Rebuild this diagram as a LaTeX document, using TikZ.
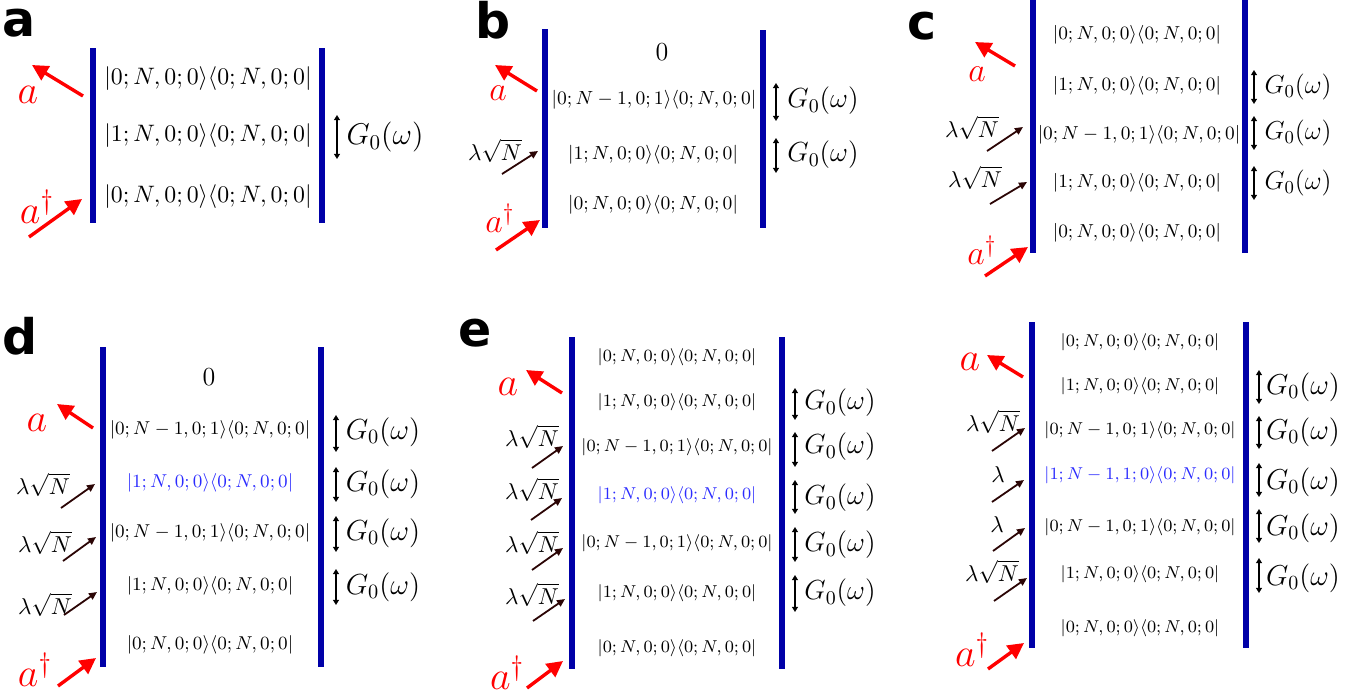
\RequirePackage{fix-cm}
\documentclass[tikz,border=0pt]{standalone}
\usepackage{fontspec}
\newfontfamily\panelfont{DejaVu Sans}
\usepackage{tikz}
\usetikzlibrary{arrows.meta,calc}
\definecolor{barblue}{HTML}{0000A8}
\definecolor{lamdark}{HTML}{2B0505}
\definecolor{stblue}{HTML}{2B2BFF}
\newcommand{\kbr}[2]{$|#1\rangle\langle#2|$}
\newcommand{\gzero}{$G_0(\omega)$}

\begin{document}
\begin{tikzpicture}[
  x=0.5pt, y=-0.5pt,
  bar/.style={draw=barblue, line width=3.3pt},
  panel/.style={inner sep=0pt, font=\panelfont\bfseries\fontsize{24.5}{24.5}\selectfont},
  st/.style={inner sep=0pt, font=\fontsize{#1}{#1}\selectfont},
  gl/.style={inner sep=0pt, font=\fontsize{#1}{#1}\selectfont},
  opl/.style={inner sep=0pt, text=red, font=\fontsize{#1}{#1}\selectfont},
  laml/.style={inner sep=0pt, font=\fontsize{11.5}{11.5}\selectfont},
  opar/.style={-{Triangle[length=8pt,width=8pt]}, red, line width=1.7pt},
  lamar/.style={-{Triangle[length=4pt,width=3.6pt]}, lamdark, line width=0.9pt},
  gar/.style={{Triangle[length=2.6pt,width=3pt]}-{Triangle[length=2.6pt,width=3pt]}, line width=0.7pt}
]
  \useasboundingbox (0,0) rectangle (1372,696);

  % a
  \node[panel] (pa) at (19.5,23) {a};
  \draw[bar] (93,48) -- (93,223);
  \draw[bar] (322,48) -- (322,223);
  \node[st=11.9] (a-s1) at (208,79) {\kbr{0;N,0;0}{0;N,0;0}};
  \node[st=11.9] (a-s2) at (208,136) {\kbr{1;N,0;0}{0;N,0;0}};
  \node[st=11.9] (a-s3) at (208,197) {\kbr{0;N,0;0}{0;N,0;0}};
  \node[opl=20] (a-a) at (28,95) {$a$};
  \node[opl=20] (a-ad) at (37,207) {$a^\dagger$};
  \coordinate (a-dn0) at (83,96);  \coordinate (a-dn1) at (32,65);
  \coordinate (a-up0) at (29,237); \coordinate (a-up1) at (82,199);
  \draw[opar] (a-dn0) -- (a-dn1);
  \draw[opar] (a-up0) -- (a-up1);
  \node[gl=15] (a-g1) at (385,137) {\gzero};
  \coordinate (a-g1t) at (337,115); \coordinate (a-g1b) at (337,159);
  \draw[gar] (a-g1t) -- (a-g1b);

  % b
  \node[panel] (pb) at (493,20) {b};
  \draw[bar] (545,29) -- (545,228);
  \draw[bar] (763,30) -- (763,228);
  \node[st=13] (b-z) at (662,52) {$0$};
  \node[st=9.5] (b-s1) at (654,100) {\kbr{0;N-1,0;1}{0;N,0;0}};
  \node[st=9.5] (b-s2) at (653,155) {\kbr{1;N,0;0}{0;N,0;0}};
  \node[st=9.5] (b-s3) at (653,205) {\kbr{0;N,0;0}{0;N,0;0}};
  \node[opl=17] (b-a) at (498,93) {$a$};
  \node[opl=17] (b-ad) at (500,218) {$a^\dagger$};
  \node[laml] (b-l1) at (495,151) {$\lambda\sqrt{N}$};
  \coordinate (b-dn0) at (537,91);  \coordinate (b-dn1) at (495,65);
  \coordinate (b-up0) at (496,250); \coordinate (b-up1) at (540,220);
  \coordinate (b-l10) at (502,174); \coordinate (b-l11) at (538,151);
  \draw[opar] (b-dn0) -- (b-dn1);
  \draw[opar] (b-up0) -- (b-up1);
  \draw[lamar] (b-l10) -- (b-l11);
  \node[gl=13.8] (b-g1) at (823,101) {\gzero};
  \node[gl=13.8] (b-g2) at (823,155) {\gzero};
  \coordinate (b-g1t) at (776,83);  \coordinate (b-g1b) at (776,121);
  \coordinate (b-g2t) at (776,138); \coordinate (b-g2b) at (776,173);
  \draw[gar] (b-g1t) -- (b-g1b);
  \draw[gar] (b-g2t) -- (b-g2b);

  % c
  \node[panel] (pc) at (922,26) {c};
  \draw[bar] (1033,0) -- (1033,253);
  \draw[bar] (1245,0) -- (1245,253);
  \node[st=9.4] (c-s1) at (1137,35) {\kbr{0;N,0;0}{0;N,0;0}};
  \node[st=9.4] (c-s2) at (1137,86) {\kbr{1;N,0;0}{0;N,0;0}};
  \node[st=9.4] (c-s3) at (1139,135) {\kbr{0;N-1,0;1}{0;N,0;0}};
  \node[st=9.4] (c-s4) at (1137,183) {\kbr{1;N,0;0}{0;N,0;0}};
  \node[st=9.4] (c-s5) at (1137,233) {\kbr{0;N,0;0}{0;N,0;0}};
  \node[opl=17] (c-a) at (977,74) {$a$};
  \node[opl=17] (c-ad) at (982,250) {$a^\dagger$};
  \node[laml] (c-l1) at (972,128) {$\lambda\sqrt{N}$};
  \node[laml] (c-l2) at (975,178) {$\lambda\sqrt{N}$};
  \coordinate (c-dn0) at (1015,66);  \coordinate (c-dn1) at (975,42);
  \coordinate (c-up0) at (985,276);  \coordinate (c-up1) at (1028,247);
  \coordinate (c-l10) at (987,151);  \coordinate (c-l11) at (1023,127);
  \coordinate (c-l20) at (990,204);  \coordinate (c-l21) at (1027,182);
  \draw[opar] (c-dn0) -- (c-dn1);
  \draw[opar] (c-up0) -- (c-up1);
  \draw[lamar] (c-l10) -- (c-l11);
  \draw[lamar] (c-l20) -- (c-l21);
  \node[gl=13] (c-g1) at (1298,87) {\gzero};
  \node[gl=13] (c-g2) at (1298,133) {\gzero};
  \node[gl=13] (c-g3) at (1298,183) {\gzero};
  \coordinate (c-g1t) at (1254,70);  \coordinate (c-g1b) at (1254,104);
  \coordinate (c-g2t) at (1254,116); \coordinate (c-g2b) at (1254,150);
  \coordinate (c-g3t) at (1254,166); \coordinate (c-g3b) at (1254,200);
  \draw[gar] (c-g1t) -- (c-g1b);
  \draw[gar] (c-g2t) -- (c-g2b);
  \draw[gar] (c-g3t) -- (c-g3b);

  % d
  \node[panel] (pd) at (20,336) {d};
  \draw[bar] (103,347) -- (103,667);
  \draw[bar] (321,347) -- (321,667);
  \node[st=13] (d-z) at (209,377) {$0$};
  \node[st=9.3] (d-s1) at (210,430) {\kbr{0;N-1,0;1}{0;N,0;0}};
  \node[st=9.3, text=stblue] (d-s2) at (210,483) {\kbr{1;N,0;0}{0;N,0;0}};
  \node[st=9.3] (d-s3) at (210,533) {\kbr{0;N-1,0;1}{0;N,0;0}};
  \node[st=9.3] (d-s4) at (210,586) {\kbr{1;N,0;0}{0;N,0;0}};
  \node[st=9.3] (d-s5) at (210,645) {\kbr{0;N,0;0}{0;N,0;0}};
  \node[opl=20] (d-a) at (37,423) {$a$};
  \node[opl=20] (d-ad) at (35,670) {$a^\dagger$};
  \node[laml] (d-l1) at (43,485) {$\lambda\sqrt{N}$};
  \node[laml] (d-l2) at (45,543) {$\lambda\sqrt{N}$};
  \node[laml] (d-l3) at (45,605) {$\lambda\sqrt{N}$};
  \coordinate (d-dn0) at (93,428);  \coordinate (d-dn1) at (57,404);
  \coordinate (d-up0) at (58,686);  \coordinate (d-up1) at (96,658);
  \coordinate (d-l10) at (61,508);  \coordinate (d-l11) at (95,484);
  \coordinate (d-l20) at (63,561);  \coordinate (d-l21) at (96,537);
  \coordinate (d-l30) at (64,615);  \coordinate (d-l31) at (97,592);
  \draw[opar] (d-dn0) -- (d-dn1);
  \draw[opar] (d-up0) -- (d-up1);
  \draw[lamar] (d-l10) -- (d-l11);
  \draw[lamar] (d-l20) -- (d-l21);
  \draw[lamar] (d-l30) -- (d-l31);
  \node[gl=14.5] (d-g1) at (383,432) {\gzero};
  \node[gl=14.5] (d-g2) at (383,484) {\gzero};
  \node[gl=14.5] (d-g3) at (383,533) {\gzero};
  \node[gl=14.5] (d-g4) at (383,587) {\gzero};
  \coordinate (d-g1t) at (336,415); \coordinate (d-g1b) at (336,452);
  \coordinate (d-g2t) at (336,467); \coordinate (d-g2b) at (336,502);
  \coordinate (d-g3t) at (336,516); \coordinate (d-g3b) at (336,552);
  \coordinate (d-g4t) at (336,569); \coordinate (d-g4b) at (336,605);
  \draw[gar] (d-g1t) -- (d-g1b);
  \draw[gar] (d-g2t) -- (d-g2b);
  \draw[gar] (d-g3t) -- (d-g3b);
  \draw[gar] (d-g4t) -- (d-g4b);

  % e
  \node[panel] (pe) at (475,333) {e};
  \draw[bar] (572,337) -- (572,669);
  \draw[bar] (782,337) -- (782,669);
  \node[st=8.6] (e-s1) at (677,357) {\kbr{0;N,0;0}{0;N,0;0}};
  \node[st=8.6] (e-s2) at (677,402) {\kbr{1;N,0;0}{0;N,0;0}};
  \node[st=8.6] (e-s3) at (677,447) {\kbr{0;N-1,0;1}{0;N,0;0}};
  \node[st=8.6, text=stblue] (e-s4) at (677,495) {\kbr{1;N,0;0}{0;N,0;0}};
  \node[st=8.6] (e-s5) at (677,543) {\kbr{0;N-1,0;1}{0;N,0;0}};
  \node[st=8.6] (e-s6) at (677,593) {\kbr{1;N,0;0}{0;N,0;0}};
  \node[st=8.6] (e-s7) at (677,648) {\kbr{0;N,0;0}{0;N,0;0}};
  \node[opl=20] (e-a) at (508,387) {$a$};
  \node[opl=20] (e-ad) at (507,673) {$a^\dagger$};
  \node[laml] (e-l1) at (532,437) {$\lambda\sqrt{N}$};
  \node[laml] (e-l2) at (532,490) {$\lambda\sqrt{N}$};
  \node[laml] (e-l3) at (532,543) {$\lambda\sqrt{N}$};
  \node[laml] (e-l4) at (532,595) {$\lambda\sqrt{N}$};
  \coordinate (e-dn0) at (562,393); \coordinate (e-dn1) at (526,370);
  \coordinate (e-up0) at (527,688); \coordinate (e-up1) at (563,661);
  \coordinate (e-l10) at (532,468); \coordinate (e-l11) at (563,446);
  \coordinate (e-l20) at (531,520); \coordinate (e-l21) at (562,498);
  \coordinate (e-l30) at (532,570); \coordinate (e-l31) at (563,548);
  \coordinate (e-l40) at (533,621); \coordinate (e-l41) at (565,599);
  \draw[opar] (e-dn0) -- (e-dn1);
  \draw[opar] (e-up0) -- (e-up1);
  \draw[lamar] (e-l10) -- (e-l11);
  \draw[lamar] (e-l20) -- (e-l21);
  \draw[lamar] (e-l30) -- (e-l31);
  \draw[lamar] (e-l40) -- (e-l41);
  \node[gl=13.8] (e-g1) at (840,403) {\gzero};
  \node[gl=13.8] (e-g2) at (840,447) {\gzero};
  \node[gl=13.8] (e-g3) at (840,498) {\gzero};
  \node[gl=13.8] (e-g4) at (840,545) {\gzero};
  \node[gl=13.8] (e-g5) at (840,593) {\gzero};
  \coordinate (e-g1t) at (795,388); \coordinate (e-g1b) at (795,420);
  \coordinate (e-g2t) at (795,432); \coordinate (e-g2b) at (795,467);
  \coordinate (e-g3t) at (795,480); \coordinate (e-g3b) at (795,514);
  \coordinate (e-g4t) at (795,527); \coordinate (e-g4b) at (795,562);
  \coordinate (e-g5t) at (795,575); \coordinate (e-g5b) at (795,612);
  \draw[gar] (e-g1t) -- (e-g1b);
  \draw[gar] (e-g2t) -- (e-g2b);
  \draw[gar] (e-g3t) -- (e-g3b);
  \draw[gar] (e-g4t) -- (e-g4b);
  \draw[gar] (e-g5t) -- (e-g5b);

  % f (no letter)
  \draw[bar] (1032,322) -- (1032,648);
  \draw[bar] (1246,322) -- (1246,648);
  \node[st=8.6] (f-s1) at (1140,342) {\kbr{0;N,0;0}{0;N,0;0}};
  \node[st=8.6] (f-s2) at (1140,386) {\kbr{1;N,0;0}{0;N,0;0}};
  \node[st=8.6] (f-s3) at (1140,430) {\kbr{0;N-1,0;1}{0;N,0;0}};
  \node[st=8.6, text=stblue] (f-s4) at (1140,475) {\kbr{1;N-1,1;0}{0;N,0;0}};
  \node[st=8.6] (f-s5) at (1140,527) {\kbr{0;N-1,0;1}{0;N,0;0}};
  \node[st=8.6] (f-s6) at (1140,574) {\kbr{1;N,0;0}{0;N,0;0}};
  \node[st=8.6] (f-s7) at (1140,628) {\kbr{0;N,0;0}{0;N,0;0}};
  \node[opl=20] (f-a) at (970,362) {$a$};
  \node[opl=20] (f-ad) at (972,650) {$a^\dagger$};
  \node[laml] (f-l1) at (993,422) {$\lambda\sqrt{N}$};
  \node[laml] (f-l2) at (998,475) {$\lambda$};
  \node[laml] (f-l3) at (997,525) {$\lambda$};
  \node[laml] (f-l4) at (992,572) {$\lambda\sqrt{N}$};
  \coordinate (f-dn0) at (1023,377); \coordinate (f-dn1) at (987,355);
  \coordinate (f-up0) at (988,669);  \coordinate (f-up1) at (1024,643);
  \coordinate (f-l10) at (992,451);  \coordinate (f-l11) at (1025,428);
  \coordinate (f-l20) at (992,502);  \coordinate (f-l21) at (1024,480);
  \coordinate (f-l30) at (993,551);  \coordinate (f-l31) at (1025,528);
  \coordinate (f-l40) at (994,601);  \coordinate (f-l41) at (1027,578);
  \draw[opar] (f-dn0) -- (f-dn1);
  \draw[opar] (f-up0) -- (f-up1);
  \draw[lamar] (f-l10) -- (f-l11);
  \draw[lamar] (f-l20) -- (f-l21);
  \draw[lamar] (f-l30) -- (f-l31);
  \draw[lamar] (f-l40) -- (f-l41);
  \node[gl=14.4] (f-g1) at (1303,387) {\gzero};
  \node[gl=14.4] (f-g2) at (1303,432) {\gzero};
  \node[gl=14.4] (f-g3) at (1303,482) {\gzero};
  \node[gl=14.4] (f-g4) at (1303,528) {\gzero};
  \node[gl=14.4] (f-g5) at (1303,578) {\gzero};
  \coordinate (f-g1t) at (1259,370); \coordinate (f-g1b) at (1259,404);
  \coordinate (f-g2t) at (1259,416); \coordinate (f-g2b) at (1259,449);
  \coordinate (f-g3t) at (1259,463); \coordinate (f-g3b) at (1259,497);
  \coordinate (f-g4t) at (1259,509); \coordinate (f-g4b) at (1259,543);
  \coordinate (f-g5t) at (1259,558); \coordinate (f-g5b) at (1259,593);
  \draw[gar] (f-g1t) -- (f-g1b);
  \draw[gar] (f-g2t) -- (f-g2b);
  \draw[gar] (f-g3t) -- (f-g3b);
  \draw[gar] (f-g4t) -- (f-g4b);
  \draw[gar] (f-g5t) -- (f-g5b);
\end{tikzpicture}
\end{document}
